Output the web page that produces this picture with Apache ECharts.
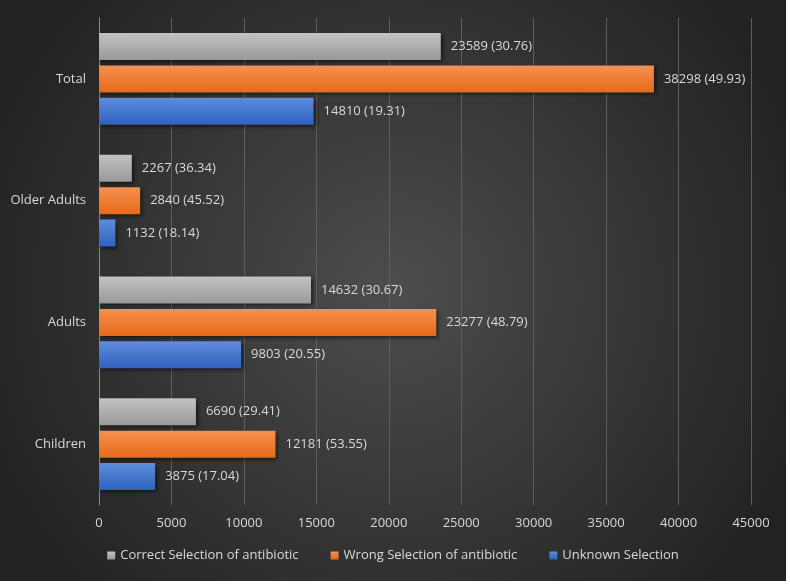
<!DOCTYPE html>
<html><head><meta charset="utf-8">
<script src="https://cdn.jsdelivr.net/npm/echarts@6/dist/echarts.min.js"></script>
<style>html,body{margin:0;padding:0;background:#fff;}#c{width:786px;height:581px;}</style>
</head><body><div id="c"></div>
<script>
const categories = ['Children', 'Adults', 'Older Adults', 'Total'];
const seriesNames = ['Correct Selection of antibiotic', 'Wrong Selection of antibiotic', 'Unknown Selection'];
const correctVals = [6690, 14632, 2267, 23589];
const correctPct = [29.41, 30.67, 36.34, 30.76];
const wrongVals = [12181, 23277, 2840, 38298];
const wrongPct = [53.55, 48.79, 45.52, 49.93];
const unknownVals = [3875, 9803, 1132, 14810];
const unknownPct = [17.04, 20.55, 18.14, 19.31];
const xTicks = [0, 5000, 10000, 15000, 20000, 25000, 30000, 35000, 40000, 45000];

const FONT = '"Open Sans", "Liberation Sans", sans-serif';
function grad(top, bottom) {
  return {type: 'linear', x: 0, y: 0, x2: 0, y2: 1, colorStops: [{offset: 0, color: top}, {offset: 1, color: bottom}]};
}
function mk(name, vals, pcts, top, bottom) {
  return {
    name: name, type: 'bar', barWidth: 27, barGap: '20%',
    data: vals,
    itemStyle: {color: grad(top, bottom), shadowColor: 'rgba(0,0,0,0.55)', shadowBlur: 4, shadowOffsetX: 2, shadowOffsetY: 2},
    label: {show: true, position: 'right', distance: 10, color: '#d9d9d9', fontFamily: FONT, fontSize: 13,
      formatter: p => vals[p.dataIndex] + ' (' + pcts[p.dataIndex].toFixed(2) + ')'}
  };
}
const chart = echarts.init(document.getElementById('c'));
chart.setOption({
  animation: false,
  backgroundColor: {type: 'radial', x: 0.5, y: 0.5, r: 0.75, colorStops: [{offset: 0, color: '#4d4d4d'}, {offset: 1, color: '#222222'}]},
  grid: {left: 99, right: 35, top: 18, bottom: 76},
  legend: {
    data: seriesNames, bottom: 14, left: 'center', itemWidth: 8, itemHeight: 8, itemGap: 32,
    icon: 'rect', textStyle: {color: '#d9d9d9', fontFamily: FONT, fontSize: 13}
  },
  xAxis: {
    type: 'value', min: 0, max: 45000, interval: 5000,
    axisLine: {show: false}, axisTick: {show: false},
    splitLine: {show: true, lineStyle: {color: '#5e5e5e', width: 1}},
    axisLabel: {color: '#d9d9d9', fontFamily: FONT, fontSize: 13, margin: 12,
      formatter: v => xTicks.includes(v) ? String(v) : ''}
  },
  yAxis: {
    type: 'category', data: categories,
    axisLine: {show: true, lineStyle: {color: '#8a8a8a', width: 1}}, axisTick: {show: false},
    axisLabel: {color: '#d9d9d9', fontFamily: FONT, fontSize: 13, margin: 13}
  },
  series: [
    mk(seriesNames[0], correctVals, correctPct, '#c3c3c3', '#999999'),
    mk(seriesNames[1], wrongVals, wrongPct, '#f69050', '#e56b1a'),
    mk(seriesNames[2], unknownVals, unknownPct, '#5e8ddb', '#2e62bf')
  ]
});
</script></body></html>
